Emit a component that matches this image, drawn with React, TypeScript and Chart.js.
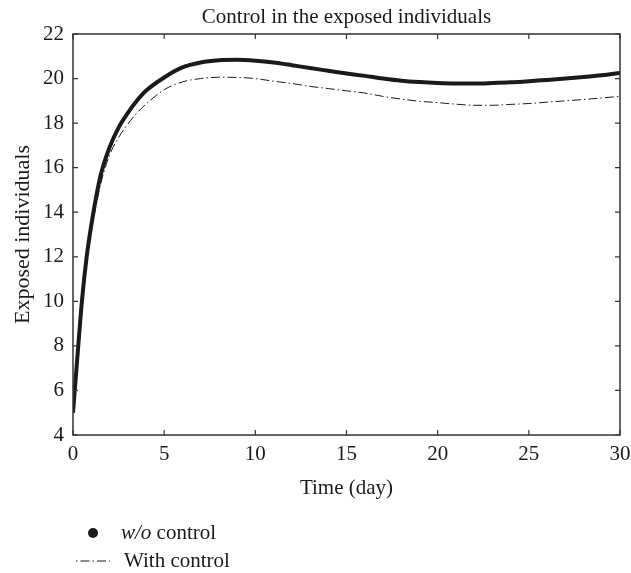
import React, { useEffect, useRef } from 'react';
import { Chart, registerables } from 'chart.js';

Chart.register(...registerables);

// ---- data ----
const timeDays = [0, 0.25, 0.5, 0.75, 1, 1.5, 2, 2.5, 3, 3.5, 4, 5, 6, 7, 8, 9, 10, 11, 12, 13, 14, 15, 16, 17, 18, 19, 20, 21, 22, 23, 24, 25, 26, 27, 28, 29, 30];
const withoutControl = [5, 7.6, 10.1, 12.0, 13.4, 15.6, 16.9, 17.8, 18.45, 19.0, 19.45, 20.05, 20.5, 20.72, 20.82, 20.84, 20.8, 20.72, 20.6, 20.47, 20.35, 20.23, 20.12, 20.0, 19.9, 19.84, 19.8, 19.78, 19.78, 19.8, 19.83, 19.88, 19.94, 20.0, 20.07, 20.15, 20.25];
const withControl = [5, 7.4, 9.8, 11.7, 13.1, 15.2, 16.55, 17.35, 17.95, 18.45, 18.85, 19.5, 19.85, 20.0, 20.06, 20.05, 20.0, 19.88, 19.78, 19.65, 19.55, 19.45, 19.35, 19.2, 19.08, 18.98, 18.92, 18.85, 18.8, 18.8, 18.84, 18.88, 18.94, 19.0, 19.06, 19.13, 19.2];
const seriesLabels = ['w/o control', 'With control'];
const chartTitle = 'Control in the exposed individuals';
const xTitle = 'Time (day)';
const yTitle = 'Exposed individuals';

const FONT = "'Liberation Serif', 'DejaVu Serif', serif";
const INK = '#1a1a1a';
const FS = 21;

const framePlugin = {
  id: 'frameTicks',
  afterDatasetsDraw(chart: any) {
    const { ctx, chartArea, scales } = chart;
    const { left, right, top, bottom } = chartArea;
    const x = scales.x;
    const y = scales.y;
    ctx.save();
    ctx.strokeStyle = '#333';
    ctx.lineWidth = 1.5;
    ctx.strokeRect(left, top, right - left, bottom - top);
    ctx.lineWidth = 1.2;
    const len = 5;
    x.ticks.forEach((t: any) => {
      const px = x.getPixelForValue(t.value);
      ctx.beginPath();
      ctx.moveTo(px, bottom);
      ctx.lineTo(px, bottom - len);
      ctx.moveTo(px, top);
      ctx.lineTo(px, top + len);
      ctx.stroke();
    });
    y.ticks.forEach((t: any) => {
      const py = y.getPixelForValue(t.value);
      ctx.beginPath();
      ctx.moveTo(left, py);
      ctx.lineTo(left + len, py);
      ctx.moveTo(right, py);
      ctx.lineTo(right - len, py);
      ctx.stroke();
    });
    ctx.restore();
  },
  afterDraw(chart: any) {
    const { ctx, chartArea } = chart;
    const { left, right } = chartArea;
    ctx.save();
    ctx.fillStyle = INK;
    // title
    ctx.font = `${FS}px ${FONT}`;
    ctx.textAlign = 'center';
    ctx.textBaseline = 'middle';
    ctx.fillText(chartTitle, (left + right) / 2, 17);

    // legend
    const ds = chart.data.datasets;
    ctx.textAlign = 'left';
    ctx.beginPath();
    ctx.arc(93, 533, 5, 0, Math.PI * 2);
    ctx.fillStyle = ds[0].borderColor;
    ctx.fill();
    ctx.fillStyle = INK;
    ctx.font = `italic ${FS}px ${FONT}`;
    const it = seriesLabels[0].slice(0, 3);
    const rest = seriesLabels[0].slice(3);
    ctx.fillText(it, 121, 533);
    const w = ctx.measureText(it).width;
    ctx.font = `${FS}px ${FONT}`;
    ctx.fillText(rest, 121 + w, 533);
    ctx.strokeStyle = ds[1].borderColor;
    ctx.lineWidth = 1;
    ctx.setLineDash(ds[1].borderDash);
    ctx.lineDashOffset = 11;
    ctx.beginPath();
    ctx.moveTo(75, 561);
    ctx.lineTo(110, 561);
    ctx.stroke();
    ctx.setLineDash([]);
    ctx.fillText(seriesLabels[1], 124, 561);
    ctx.restore();
  },
};

export default function App() {
  const ref = useRef<HTMLCanvasElement>(null);
  useEffect(() => {
    if (!ref.current) return;
    const chart = new Chart(ref.current, {
      type: 'line',
      data: {
        datasets: [
          {
            label: seriesLabels[0],
            data: timeDays.map((t, i) => ({ x: t, y: withoutControl[i] })),
            borderColor: INK,
            borderWidth: 4,
            pointRadius: 0,
            cubicInterpolationMode: 'monotone',
          },
          {
            label: seriesLabels[1],
            data: timeDays.map((t, i) => ({ x: t, y: withControl[i] })),
            borderColor: INK,
            borderWidth: 1,
            borderDash: [9, 3, 1.5, 3],
            pointRadius: 0,
            cubicInterpolationMode: 'monotone',
          },
        ],
      },
      options: {
        responsive: false,
        animation: false,
        layout: { padding: { top: 34, right: 11, bottom: 68, left: 0 } },
        plugins: { legend: { display: false }, title: { display: false }, tooltip: { enabled: false } },
        scales: {
          x: {
            type: 'linear',
            min: 0,
            max: 30,
            grid: { display: false, drawTicks: false },
            border: { display: false },
            ticks: { stepSize: 5, padding: 7, color: INK, font: { family: FONT, size: FS }, maxRotation: 0 },
            title: { display: true, text: xTitle, color: INK, font: { family: FONT, size: FS }, padding: { top: 0, bottom: 4 } },
            afterFit: (s: any) => { s.height = 70; s.paddingLeft = 0; s.paddingRight = 0; },
          },
          y: {
            type: 'linear',
            min: 4,
            max: 22,
            grid: { display: false, drawTicks: false },
            border: { display: false },
            ticks: { stepSize: 2, padding: 9, color: INK, font: { family: FONT, size: FS } },
            title: { display: true, text: yTitle, color: INK, font: { family: FONT, size: FS + 1 }, padding: { top: 10, bottom: 0 } },
            afterFit: (s: any) => { s.width = 73; s.paddingTop = 0; s.paddingBottom = 0; },
          },
        },
      },
      plugins: [framePlugin],
    } as any);
    return () => chart.destroy();
  }, []);
  return (
    <div style={{ position: 'fixed', left: 0, top: 0, width: 631, height: 573, background: '#fff' }}>
      <canvas ref={ref} width={631} height={573} style={{ display: 'block' }} />
    </div>
  );
}
